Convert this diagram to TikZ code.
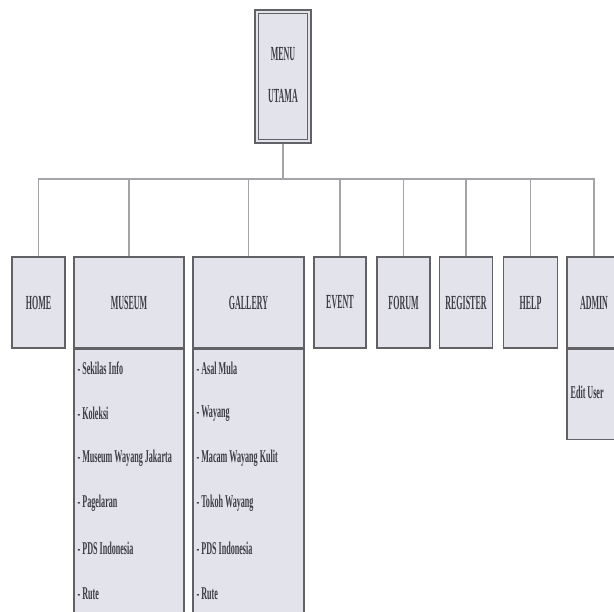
\documentclass[tikz,border=0pt]{standalone}
\usepackage{fontspec}
\setmainfont{Liberation Serif}
\usepackage{graphicx}
\usepackage{tikz}
\usetikzlibrary{positioning, calc}
\definecolor{boxfill}{rgb}{0.89,0.89,0.92}
\definecolor{boxline}{rgb}{0.38,0.38,0.40}
\definecolor{linkgray}{rgb}{0.64,0.64,0.66}
\definecolor{textgray}{rgb}{0.24,0.24,0.28}
\newcommand{\slim}[1]{\scalebox{0.4}[1]{#1}}
\newcommand{\slimitem}[1]{\scalebox{0.45}[1]{#1}}

\begin{document}
\begin{tikzpicture}[x=1pt, y=1pt,
    menubox/.style={draw=boxline, line width=1.2pt, fill=boxfill, inner sep=0pt,
      minimum height=91pt, text=textgray, font=\fontsize{20}{22}\selectfont\bfseries},
    listbox/.style={draw=boxline, line width=1.2pt, fill=boxfill, inner sep=0pt},
    item/.style={anchor=west, inner sep=0pt, text=textgray, font=\fontsize{18}{20}\selectfont\bfseries},
    link/.style={draw=linkgray, line width=1.3pt}]
        \useasboundingbox (0,0) rectangle (614,612);
        \clip (0,0) rectangle (614,612);
        % Main menu
        \node[menubox, minimum width=56, minimum height=133] (top) at (283,535.5) {};
        \draw[boxline, thin] ($(top.south west)+(4,4)$) rectangle ($(top.north east)+(-4,-4)$);
        \node[text=textgray, font=\fontsize{20}{22}\selectfont\bfseries] (toplineA) at ($(top.center)+(0,22)$) {\slim{MENU}};
        \node[text=textgray, font=\fontsize{20}{22}\selectfont\bfseries] (toplineB) at ($(top.center)+(0,-20)$) {\slim{UTAMA}};
        % Menu row
        \node[menubox, minimum width=53] (home) at (38.5,309.5) {\slim{HOME}};
        \node[menubox, minimum width=110] (museum) at (129,309.5) {\slim{MUSEUM}};
        \node[menubox, minimum width=111] (gallery) at (248.5,309.5) {\slim{GALLERY}};
        \node[menubox, minimum width=52] (event) at (340,309.5) {\slim{EVENT}};
        \node[menubox, minimum width=53] (forum) at (403.5,309.5) {\slim{FORUM}};
        \node[menubox, minimum width=53] (register) at (466,309.5) {\slim{REGISTER}};
        \node[menubox, minimum width=54] (help) at (530.5,309.5) {\slim{HELP}};
        \node[menubox, minimum width=54] (admin) at (594,309.5) {\slim{ADMIN}};
        % Links
        \coordinate (bus) at (283,433);
        \draw[link] (top.south) -- (bus);
        \foreach \n in {home, museum, gallery, event, forum, register, help, admin}
            \draw[link] (bus) -| (\n.north);
        % Sub menus
        \node[listbox, minimum width=110, minimum height=270, anchor=north] (museumlist) at (museum.south) {};
        \node[listbox, minimum width=111, minimum height=270, anchor=north] (gallerylist) at (gallery.south) {};
        \node[listbox, minimum width=54, minimum height=90, anchor=north] (adminlist) at (admin.south) {};
        \foreach \txt [count=\i] in {Sekilas Info, Koleksi, Museum Wayang Jakarta, Pagelaran, PDS Indonesia, Rute}
            \node[item] (museumitem\i) at ($(museumlist.north west)+(4,{-20-45*(\i-1)})$) {\slimitem{- \txt}};
        \foreach \txt [count=\i] in {Asal Mula, Wayang, Macam Wayang Kulit, Tokoh Wayang, PDS Indonesia, Rute}
            \node[item] (galleryitem\i) at ($(gallerylist.north west)+(4,{-20-45*(\i-1)})$) {\slimitem{- \txt}};
        \node[item] (adminitem) at ($(adminlist.west)+(4,2)$) {\slimitem{Edit User}};
    \end{tikzpicture}
\end{document}
